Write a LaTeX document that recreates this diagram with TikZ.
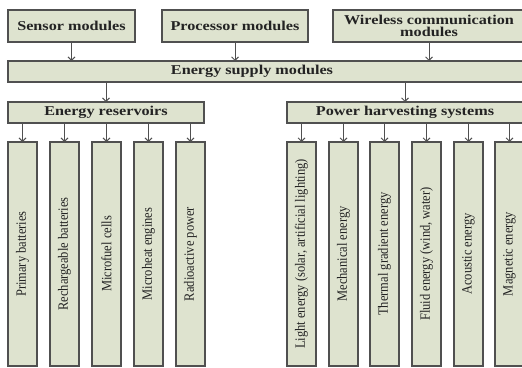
\documentclass[tikz,border=0pt]{standalone}
\usepackage{fontspec}
\setmainfont{Liberation Serif}
\newfontfamily\boldwide[FakeStretch=1.2]{Liberation Serif}
\newfontfamily\condfont[FakeStretch=0.88]{Liberation Serif}
\usetikzlibrary{arrows.meta}
\definecolor{boxfill}{RGB}{222,227,207}
\definecolor{boxline}{RGB}{80,80,80}
\definecolor{txt}{RGB}{35,35,35}
\tikzset{
  box/.style={draw=boxline, line width=1.1pt, fill=boxfill, inner sep=0pt, outer sep=0pt, anchor=north west, text=txt, align=center},
  hdr/.style={font=\boldwide\bfseries\fontsize{13.5}{12.5}\selectfont, text=txt},
  tall/.style={box, minimum width=29pt, minimum height=224pt, font=\condfont\fontsize{14.2}{14}\selectfont},
  arr/.style={draw=boxline, line width=0.9pt, -{Straight Barb[length=3.5pt,width=7pt]}}
}
\begin{document}
\begin{tikzpicture}[x=1pt,y=-1pt]
\useasboundingbox (0,0) rectangle (522,367);
\clip (0,0) rectangle (522,367);
% top row
\node[box,hdr,minimum width=127pt,minimum height=32pt] (sensor) at (8,10) {Sensor modules};
\node[box,hdr,minimum width=146pt,minimum height=32pt] (proc) at (162,10) {Processor modules};
\node[box,hdr,minimum width=192pt,minimum height=32pt] (wire) at (333,10) {Wireless communication\\modules};
% supply
\node[box,minimum width=522pt,minimum height=21pt] (supply) at (8,61) {};
\node[hdr] (supplyt) at (252,71.5) {Energy supply modules};
% second level
\node[box,hdr,minimum width=196pt,minimum height=21pt] (res) at (8,102) {Energy reservoirs};
\node[box,hdr,minimum width=236pt,minimum height=21pt] (harv) at (287,102) {Power harvesting systems};
% tall boxes
\node[tall] (r1) at (8,142) {\rotatebox{90}{Primary batteries}};
\node[tall] (r2) at (50,142) {\rotatebox{90}{Rechargeable batteries}};
\node[tall] (r3) at (92,142) {\rotatebox{90}{Microfuel cells}};
\node[tall] (r4) at (134,142) {\rotatebox{90}{Microheat engines}};
\node[tall] (r5) at (176,142) {\rotatebox{90}{Radioactive power}};
\node[tall] (h1) at (287,142) {\rotatebox{90}{Light energy (solar, artificial lighting)}};
\node[tall] (h2) at (329,142) {\rotatebox{90}{Mechanical energy}};
\node[tall] (h3) at (370,142) {\rotatebox{90}{Thermal gradient energy}};
\node[tall] (h4) at (412,142) {\rotatebox{90}{Fluid energy (wind, water)}};
\node[tall] (h5) at (454,142) {\rotatebox{90}{Acoustic energy}};
\node[tall] (h6) at (495,142) {\rotatebox{90}{Magnetic energy}};
% arrows
\draw[arr] (sensor.south) -- (sensor.south |- supply.north);
\draw[arr] (proc.south) -- (proc.south |- supply.north);
\draw[arr] (wire.south) -- (wire.south |- supply.north);
\draw[arr] (supply.south -| res.north) -- (res.north);
\draw[arr] (supply.south -| harv.north) -- (harv.north);
\foreach \n in {r1,r2,r3,r4,r5}{\draw[arr] (res.south -| \n.north) -- (\n.north);}
\foreach \n in {h1,h2,h3,h4,h5,h6}{\draw[arr] (harv.south -| \n.north) -- (\n.north);}
\end{tikzpicture}
\end{document}
